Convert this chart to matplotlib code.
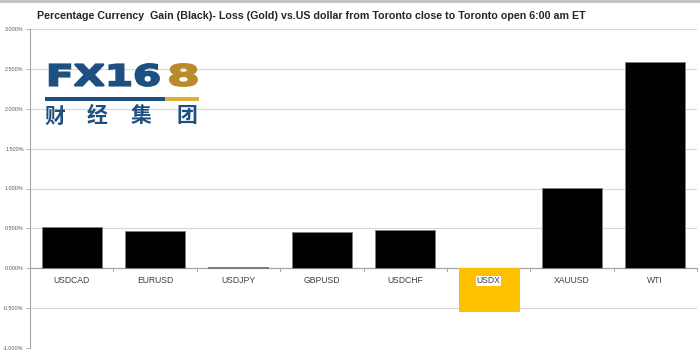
import matplotlib
matplotlib.use("Agg")
import matplotlib.pyplot as plt
from matplotlib.textpath import TextPath
from matplotlib.font_manager import FontProperties
from matplotlib.patches import PathPatch, Rectangle
from matplotlib.path import Path
from matplotlib.ticker import FuncFormatter
import numpy as np

categories = ["USDCAD", "EURUSD", "USDJPY", "GBPUSD", "USDCHF", "USDX", "XAUUSD", "WTI"]
values = [0.52, 0.47, 0.02, 0.46, 0.48, -0.53, 1.01, 2.59]
title = "Percentage Currency  Gain (Black)- Loss (Gold) vs.US dollar from Toronto close to Toronto open 6:00 am ET"
ytick_values = [-1.0, -0.5, 0.0, 0.5, 1.0, 1.5, 2.0, 2.5, 3.0]

W, H = 700, 353
fig = plt.figure(figsize=(7.0, 3.53), dpi=100)
fig.patch.set_facecolor("white")

ax = fig.add_axes([30 / W, (H - 348) / H, (697 - 30) / W, (348 - 29) / H])
x = np.arange(len(categories))
colors = ["#000000" if v >= 0 else "#FFC000" for v in values]
edges = ["#7f7f7f" if v >= 0 else "#FFC000" for v in values]
ax.bar(x, values, width=0.72, color=colors, edgecolor=edges, linewidth=0.7, zorder=3)

ax.set_xlim(-0.5, len(categories) - 0.5)
ax.set_ylim(-1.0, 3.0)
ax.set_yticks(ytick_values)
ax.yaxis.set_major_formatter(FuncFormatter(lambda v, p: f"{v:.3f}%"))
ax.tick_params(axis="y", labelsize=3.9, labelcolor="#595959", length=3, width=0.6,
               color="#a6a6a6", pad=1.5)
for lab in ax.get_yticklabels():
    lab.set_family("Liberation Sans")
ax.grid(axis="y", color="#d9d9d9", linewidth=0.8, zorder=0)
ax.set_axisbelow(True)
for s in ["top", "right", "bottom"]:
    ax.spines[s].set_visible(False)
ax.spines["left"].set_color("#a6a6a6")
ax.spines["left"].set_linewidth(0.8)

ax.axhline(0, color="#a6a6a6", linewidth=0.9, zorder=2)
ax.set_xticks([])
for b in np.arange(0.5, len(categories) - 0.5 + 0.01, 1.0):
    ax.plot([b, b], [0, -0.04], color="#a6a6a6", linewidth=0.7, zorder=2, clip_on=False)

for i, c in enumerate(categories):
    kw = {}
    if values[i] < 0:
        kw["bbox"] = dict(facecolor="white", edgecolor="none", pad=0.5)
    ax.text(i, -0.1, c, ha="center", va="top", fontsize=6.2, color="#404040",
            family="Liberation Sans", zorder=5, **kw)

ov = fig.add_axes([0, 0, 1, 1], facecolor="none")
ov.set_xlim(0, W)
ov.set_ylim(H, 0)
ov.axis("off")

ov.plot([0, W], [1, 1], color="#bfbfbf", linewidth=2)

ov.text(37, 16, title, ha="left", va="center", fontsize=7.7, fontweight="bold",
        color="#262626", family="Liberation Sans")

def fit_text(s, box, color, lw=1.4, weight="bold", family="DejaVu Sans"):
    tp = TextPath((0, 0), s, size=50, prop=FontProperties(family=family, weight=weight))
    v = tp.vertices.copy()
    x0, y0 = v[:, 0].min(), v[:, 1].min()
    x1, y1 = v[:, 0].max(), v[:, 1].max()
    bx0, by0, bx1, by1 = box
    nv = np.empty_like(v)
    nv[:, 0] = bx0 + (v[:, 0] - x0) / (x1 - x0) * (bx1 - bx0)
    nv[:, 1] = by1 - (v[:, 1] - y0) / (y1 - y0) * (by1 - by0)
    ov.add_patch(PathPatch(Path(nv, tp.codes), facecolor=color, edgecolor=color,
                           linewidth=lw, joinstyle="miter", zorder=10))

blue = "#1d4f80"
gold = "#b98b2a"
fit_text("FX16", (46, 64, 159, 86), blue)
fit_text("8", (167, 64, 197, 86), gold)
ov.add_patch(Rectangle((45, 97), 120, 4, facecolor=blue, edgecolor="none", zorder=10))
ov.add_patch(Rectangle((165, 97), 34, 4, facecolor="#e0ae3a", edgecolor="none", zorder=10))
for cx, ch in zip([55, 97, 141, 187], "财经集团"):
    ov.text(cx, 116, ch, ha="center", va="center", fontsize=15, color=blue,
            family="Noto Sans CJK SC", fontweight="bold", zorder=10)

fig.savefig("out.png", dpi=100, facecolor="white")
